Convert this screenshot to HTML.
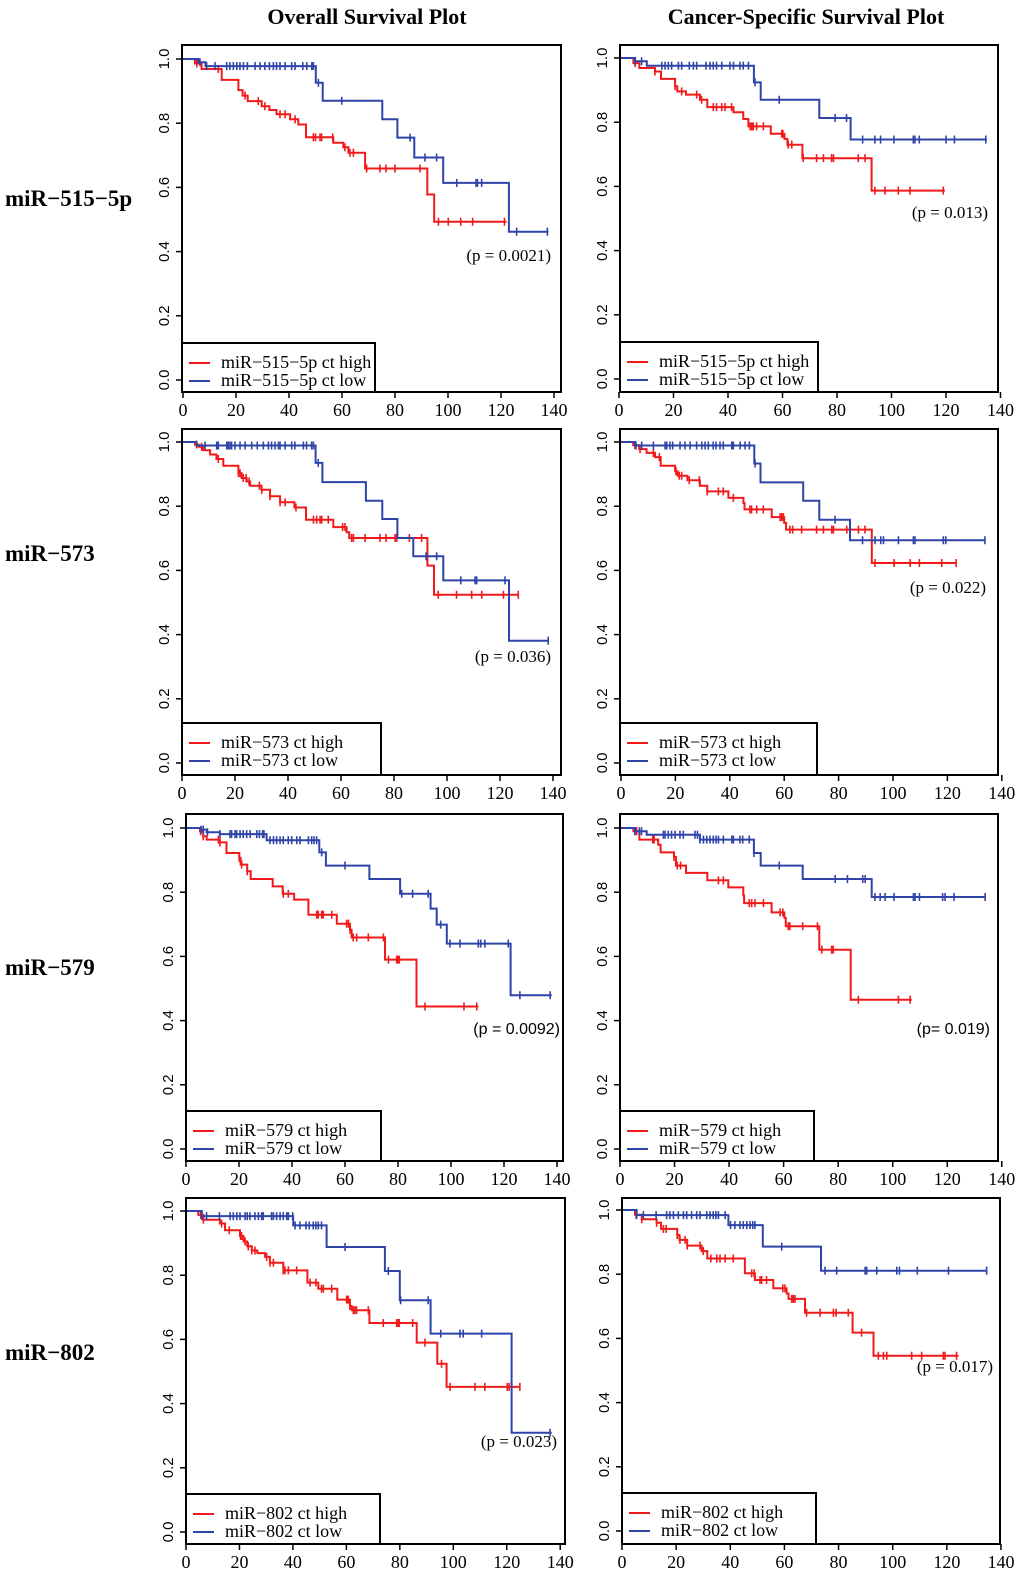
<!DOCTYPE html>
<html><head><meta charset="utf-8"><style>
html,body{margin:0;padding:0;background:#fff}
svg{display:block}
.hd{font-family:"Liberation Serif",serif;font-weight:bold;font-size:22px}
.rl{font-family:"Liberation Serif",serif;font-weight:bold;font-size:23px}
.xt{font-family:"Liberation Serif",serif;font-size:18px}
.yt{font-family:"Liberation Sans",sans-serif;font-size:15px}
.lg{font-family:"Liberation Serif",serif;font-size:18px}
.pv{font-family:"Liberation Serif",serif;font-size:17px}
.pvs{font-family:"Liberation Sans",sans-serif;font-size:16px}
</style></head><body>
<svg id="fig" width="1024" height="1582" viewBox="0 0 1024 1582" xmlns="http://www.w3.org/2000/svg">
<text class="hd" x="367" y="24" text-anchor="middle">Overall Survival Plot</text>
<text class="hd" x="806" y="24" text-anchor="middle">Cancer-Specific Survival Plot</text>
<text class="rl" x="5" y="206">miR−515−5p</text>
<text class="rl" x="5" y="561">miR−573</text>
<text class="rl" x="5" y="975">miR−579</text>
<text class="rl" x="5" y="1360">miR−802</text>
</svg>
<script>
// ---- data: drop times (months), survival after drop, censor times, last follow-up ----
const xTicks = [0,20,40,60,80,100,120,140];
const yTicks = [0,0.2,0.4,0.6,0.8,1.0];
const yTickLabels = ["0.0","0.2","0.4","0.6","0.8","1.0"];

const os515HighT = [4.5,7,14.6,20.9,22.5,24.4,29.7,32.6,35.3,40.4,43.5,46.4,56.7,60.5,62.4,68.7,92.2,94.8];
const os515HighS = [0.986,0.969,0.935,0.903,0.886,0.869,0.853,0.841,0.828,0.812,0.796,0.756,0.739,0.725,0.708,0.659,0.578,0.493];
const os515HighC = [5.2,13.3,23.4,28.4,30.9,36.6,38.5,42.3,49.2,50,51.7,52.3,56.5,61.1,63,64.3,69.3,74.3,76.6,80,89.4,96.4,100.1,104.8,109.3,121.3];
const os515HighEnd = 122.1;
const os515LowT = [5.8,8.5,50.1,52.7,75.2,80.9,87.3,98.2,123];
const os515LowS = [0.99,0.978,0.926,0.870,0.812,0.755,0.693,0.614,0.462];
const os515LowC = [6.4,8.9,12.1,16.5,17.7,19,20.3,21.5,22.8,24.3,27.2,29.1,30.9,32.6,34.1,35.3,36.6,38.5,41,42.3,45.2,46.7,48.6,49.2,51.1,59.9,85.7,91.3,95.7,103.3,110.6,111.1,112.7,125.9,137.5];
const os515LowEnd = 137.9;

const cs515HighT = [5.3,7.5,13.2,15.4,20.6,21.4,24.6,29.7,32.4,42,45.6,47.5,55.7,60.7,61.8,67.3,92.7];
const cs515HighS = [0.984,0.969,0.958,0.935,0.912,0.896,0.886,0.870,0.847,0.831,0.810,0.787,0.764,0.748,0.730,0.688,0.587];
const cs515HighC = [5.9,13.2,20.6,23,28.5,30.3,34.6,35.8,37.7,38.9,41.3,48.1,48.7,49.3,50.5,53,59.7,60.1,62.1,63.4,67.6,72.5,75,78,78.7,87.8,90.3,93.9,97.6,102.5,106.8,119];
const cs515HighEnd = 119.6;
const cs515LowT = [5.9,10.2,49.5,52,73.5,85];
const cs515LowS = [0.99,0.976,0.924,0.870,0.813,0.746];
const cs515LowC = [5.9,8.3,15.7,16.9,18.1,19.3,21.8,23,25.8,27.3,28.5,31.9,33.4,34.6,35.8,37.7,40.7,42,44.4,45.6,47.5,49.9,58.8,79.3,83.5,89.4,93.9,96,100.9,108,108.6,110.2,120,123.1,134.6];
const cs515LowEnd = 135;

const os573HighT = [4.9,6.3,8,10.6,13,15.6,21.3,22.5,24.4,25.7,30,33.2,37,42.4,46.8,57.1,62.1,63.1,92.6,95.1];
const os573HighS = [0.992,0.985,0.974,0.961,0.947,0.926,0.903,0.888,0.877,0.864,0.851,0.831,0.812,0.796,0.758,0.735,0.719,0.701,0.615,0.524];
const os573HighC = [5.5,7.4,13.7,21.3,21.9,23.1,24.2,25.3,29.2,30.1,33.2,37,38.9,43,49.6,50.8,52.1,52.7,55.2,60.6,61.5,64,64.7,69.1,74.7,77,80.4,81,85.8,90.4,96.7,103.6,109.3,113.1,121.3,126.9];
const os573HighEnd = 126.9;
const os573LowT = [5.5,50.4,53,69.4,75.6,81.3,87.3,98.6,123.4];
const os573LowS = [0.989,0.935,0.875,0.817,0.760,0.701,0.644,0.569,0.381];
const os573LowC = [8.7,13.1,13.7,16.9,17.5,18.1,18.7,20,21.9,23.8,26.3,28.4,30.7,32.6,33.8,35.1,36.4,37,38.9,41.4,42.6,45.8,47,48.9,49.6,51.4,92.1,96.1,105.2,110.6,111.2,121.9,138.2];
const os573LowEnd = 138.2;

const cs573HighT = [4.5,6.7,9.4,12.5,14.6,19.9,20.8,24.4,29,31.7,39.5,45,45.4,55.4,60,60.7,92.2];
const cs573HighS = [0.99,0.978,0.966,0.953,0.926,0.909,0.895,0.881,0.864,0.846,0.826,0.810,0.790,0.766,0.748,0.727,0.623];
const cs573HighC = [5.1,7,11.9,14.1,20.2,21.4,22.3,25.1,28.8,31.7,35.8,37.6,41.3,47.4,48,49.9,52.3,58.5,59.1,59.7,62.1,63.1,66.4,71.9,74.4,77.5,78.1,83,87.3,89.7,93.4,100.4,106.3,109.7,117.9,123.2];
const cs573HighEnd = 123.4;
const cs573LowT = [5.1,49,51.3,67,72.9,84.2];
const cs573LowS = [0.989,0.933,0.874,0.817,0.758,0.694];
const cs573LowC = [5.5,7.6,11.9,16.2,16.8,18,19,21.7,23.5,25.4,27.8,29.7,30.9,32.1,33.9,34.9,36.4,37.6,40.7,41.3,43.8,45.6,47.2,49.3,78.7,88.8,93.4,95.5,96.5,102,107.5,108.1,118.5,119.4,133.8];
const cs573LowEnd = 133.8;

const os579HighT = [5.3,6.5,7.8,12.8,15.3,20.1,20.6,23.1,24.4,32.7,36.5,40.8,46.2,56.9,61.9,62.5,75.1,87];
const os579HighS = [0.99,0.974,0.964,0.955,0.922,0.907,0.886,0.865,0.841,0.818,0.795,0.777,0.730,0.702,0.683,0.659,0.590,0.444];
const os579HighC = [5.5,6.5,12.2,12.8,20.1,21,23.1,36.7,38.6,49.3,49.9,51.2,51.8,55,60.6,61.3,61.9,63.1,64.4,68.8,74.5,76.4,79.5,80.1,80.5,90.2,104.9,109.7];
const os579HighEnd = 110.3;
const os579LowT = [5.7,7.8,12.8,30.4,50.3,52.8,69.2,80.8,92.3,94.6,98.4,122.5];
const os579LowS = [0.995,0.987,0.981,0.962,0.924,0.883,0.841,0.795,0.749,0.699,0.640,0.479];
const os579LowC = [5.7,6.5,8.1,12.8,16.6,17.2,18.5,19.1,20.4,21.6,22.9,24.2,26.7,27.7,28.9,29.4,31.7,33,34.2,35.5,36.7,38.6,39.9,41.8,43,46.2,47.4,48.3,49.3,51.2,60,81.4,85.5,91.4,96.1,99.6,103.4,110.3,111.2,112.8,121.6,126,137.4];
const os579LowEnd = 138;

const cs579HighT = [4.9,7.1,14,14.9,19.8,20.5,24.2,32,39.7,45.2,45.5,55.6,60.3,60.8,73.1,84.6];
const cs579HighS = [0.99,0.964,0.948,0.924,0.91,0.883,0.860,0.837,0.815,0.79,0.766,0.737,0.72,0.694,0.621,0.465];
const cs579HighC = [5.5,6.1,12,12.5,19.8,21,22.2,36.1,37.9,47.4,48.3,49.5,52.6,58.7,59.7,61.7,62.3,67,72.4,74,77.6,78.2,87.4,102.1,106.4];
const cs579HighEnd = 107;
const cs579LowT = [5.5,9.8,29.3,49.1,51.6,67,92.3];
const cs579LowS = [0.99,0.979,0.964,0.922,0.883,0.841,0.785];
const cs579LowC = [5.5,7.1,7.9,15.9,16.5,17.7,18.9,20.2,22,23.2,27.5,28.4,29.3,30.6,31.8,33,34.2,35.2,36.1,37.9,41,41.6,44,45,47.4,49.1,58.4,78.9,83.4,89,89.9,93.5,95.4,97.2,100.5,107.6,108.2,109.8,118.3,119.2,122.5,133.9];
const cs579LowEnd = 133.9;

const os802HighT = [4.6,6.5,12.7,14.6,20.2,21.5,22.9,24.6,26.7,29.6,31.4,36.4,45.4,49.5,56.6,61.3,62,68.6,86.3,94,97.5];
const os802HighS = [0.988,0.973,0.961,0.940,0.922,0.905,0.890,0.877,0.869,0.857,0.839,0.815,0.777,0.758,0.724,0.704,0.691,0.651,0.590,0.524,0.452];
const os802HighC = [5.5,6.5,13.3,16.2,20.4,20.8,22.1,23.3,24.6,25.8,30.2,31.4,32.7,36.4,37,38.3,41.4,46.4,48.6,50.7,51.4,54.5,60.1,60.7,61.3,62.6,63.2,63.8,68.2,73.8,78.8,79.4,79.8,84.8,89.4,95.6,98.8,108.1,111.8,120.2,120.9,124.9];
const os802HighEnd = 124.9;
const os802LowT = [5.9,40.1,52.6,74.4,80,91.5,121.8];
const os802LowS = [0.984,0.955,0.888,0.813,0.722,0.618,0.309];
const os802LowC = [5.9,7.7,12.5,16.5,17.7,19,20.2,22.1,22.9,23.9,25.8,27.1,28.3,28.9,32,32.7,33.9,35.2,36.4,37.7,38.3,39.9,40.8,42.6,44.9,46.1,47.6,48.6,49.5,50.7,59.5,75.7,80.3,90.6,95.3,102.5,103.7,110.6,136.2];
const os802LowEnd = 136.8;

const cs802HighT = [4.8,7.3,12.8,14.4,20.4,21.2,24.1,29.4,31.5,45.4,49.1,55.9,60.8,61.5,67.6,85.2,92.9];
const cs802HighS = [0.985,0.971,0.96,0.941,0.922,0.907,0.889,0.872,0.849,0.803,0.782,0.756,0.74,0.723,0.680,0.618,0.546];
const cs802HighC = [5.2,7.3,12.8,15.3,16.3,20.4,21.4,23.3,24.1,28.8,30,32.8,35,36.2,38.1,41.1,47.9,48.8,51,51.6,53.4,59.4,60.2,62.7,63.3,63.9,68.2,73.2,78.1,79.1,83.6,88.5,94.7,96.6,97.8,107,110.7,118.7,119.3,123.6];
const cs802HighEnd = 124.3;
const cs802LowT = [5.4,39.3,52,73.5];
const cs802LowS = [0.984,0.953,0.886,0.811];
const cs802LowC = [5.4,7.9,12.6,16.5,17.7,19,20.8,22.7,23.9,25.7,27.6,28.8,31.3,32.5,33.7,34.7,35.6,38.1,40.1,41.7,43.6,44.8,46.1,47.3,48.3,49.1,59,75,79.3,89.8,90.4,94.1,101.5,102.5,109.1,120.6,134.7];
const cs802LowEnd = 134.7;

// ---- layout (pixels) ----
const RED = "#f01a1a", BLUE = "#2f44a8";
const panels = [
 {id:"os-515",L:182,T:45,R:561,B:392,x0:183,kx:2.65,y1:59,y0:380,lgR:375,lgT:343,mir:"miR−515−5p",p:"(p = 0.0021)",px:551,py:261,sans:false,
  hi:[os515HighT,os515HighS,os515HighC,os515HighEnd],lo:[os515LowT,os515LowS,os515LowC,os515LowEnd]},
 {id:"css-515",L:620,T:45,R:998,B:392,x0:619,kx:2.725,y1:58,y0:379,lgR:818,lgT:342,mir:"miR−515−5p",p:"(p = 0.013)",px:988,py:218,sans:false,
  hi:[cs515HighT,cs515HighS,cs515HighC,cs515HighEnd],lo:[cs515LowT,cs515LowS,cs515LowC,cs515LowEnd]},
 {id:"os-573",L:182,T:429,R:561,B:775,x0:182,kx:2.65,y1:442,y0:763,lgR:381,lgT:723,mir:"miR−573",p:"(p = 0.036)",px:551,py:662,sans:false,
  hi:[os573HighT,os573HighS,os573HighC,os573HighEnd],lo:[os573LowT,os573LowS,os573LowC,os573LowEnd]},
 {id:"css-573",L:620,T:429,R:998,B:775,x0:621,kx:2.72,y1:442,y0:763,lgR:817,lgT:723,mir:"miR−573",p:"(p = 0.022)",px:986,py:593,sans:false,
  hi:[cs573HighT,cs573HighS,cs573HighC,cs573HighEnd],lo:[cs573LowT,cs573LowS,cs573LowC,cs573LowEnd]},
 {id:"os-579",L:186,T:814,R:563,B:1161,x0:186,kx:2.65,y1:828,y0:1149,lgR:381,lgT:1111,mir:"miR−579",p:"(p = 0.0092)",px:560,py:1034,sans:true,
  hi:[os579HighT,os579HighS,os579HighC,os579HighEnd],lo:[os579LowT,os579LowS,os579LowC,os579LowEnd]},
 {id:"css-579",L:620,T:814,R:998,B:1161,x0:620,kx:2.727,y1:828,y0:1149,lgR:814,lgT:1111,mir:"miR−579",p:"(p= 0.019)",px:990,py:1034,sans:true,
  hi:[cs579HighT,cs579HighS,cs579HighC,cs579HighEnd],lo:[cs579LowT,cs579LowS,cs579LowC,cs579LowEnd]},
 {id:"os-802",L:186,T:1198,R:565,B:1544,x0:186,kx:2.673,y1:1211,y0:1532,lgR:380,lgT:1494,mir:"miR−802",p:"(p = 0.023)",px:557,py:1447,sans:false,
  hi:[os802HighT,os802HighS,os802HighC,os802HighEnd],lo:[os802LowT,os802LowS,os802LowC,os802LowEnd]},
 {id:"css-802",L:622,T:1198,R:1000,B:1544,x0:622,kx:2.707,y1:1210,y0:1531,lgR:816,lgT:1493,mir:"miR−802",p:"(p = 0.017)",px:993,py:1372,sans:false,
  hi:[cs802HighT,cs802HighS,cs802HighC,cs802HighEnd],lo:[cs802LowT,cs802LowS,cs802LowC,cs802LowEnd]}
];

const NS = "http://www.w3.org/2000/svg";
const svg = document.getElementById("fig");
function mk(tag, attrs, parent){
  const e = document.createElementNS(NS, tag);
  for (const k in attrs) e.setAttribute(k, attrs[k]);
  (parent||svg).appendChild(e);
  return e;
}

panels.forEach(function(P){
  const X = t => P.x0 + t*P.kx;
  const Y = s => P.y0 - s*(P.y0-P.y1);
  const g = mk("g", {});
  
  

  xTicks.forEach(function(v){
    const tk = mk("line", {x1:X(v),x2:X(v),y1:P.B,y2:P.B+6,stroke:"#000","stroke-width":1.5}, g);
    
    
    const tx = mk("text", {x:X(v),y:P.B+24,"text-anchor":"middle","class":"xt"}, g);
    tx.textContent = String(v);
    
    
  });
  yTicks.forEach(function(v,i){
    const tk = mk("line", {x1:P.L-6,x2:P.L,y1:Y(v),y2:Y(v),stroke:"#000","stroke-width":1.5}, g);
    
    
    const tx = mk("text", {x:0,y:0,"text-anchor":"middle","class":"yt",transform:"translate("+(P.L-13)+","+Y(v)+") rotate(-90)"}, g);
    tx.textContent = yTickLabels[i];
    
    
  });

  function curve(data, color, name){
    const T = data[0], S = data[1], C = data[2], end = data[3];
    let d = "M" + X(0) + "," + Y(1);
    for (let i=0;i<T.length;i++){
      d += " H" + X(T[i]).toFixed(1) + " V" + Y(S[i]).toFixed(1);
    }
    d += " H" + X(end).toFixed(1);
    const p = mk("path", {d:d,fill:"none",stroke:color,"stroke-width":2}, g);
    
    
    C.forEach(function(c){
      let s = 1;
      for (let i=0;i<T.length;i++){ if (T[i] <= c) s = S[i]; }
      const m = mk("line", {x1:X(c),x2:X(c),y1:Y(s)-4,y2:Y(s)+4,stroke:color,"stroke-width":1.6}, g);
      
      
    });
  }
  curve(P.hi, RED, "ct-high");
  curve(P.lo, BLUE, "ct-low");

  const box = mk("rect", {x:P.L,y:P.T,width:P.R-P.L,height:P.B-P.T,fill:"none",stroke:"#000","stroke-width":2}, g);
  
  

  const lg = mk("g", {}, g);
  
  
  const lb = mk("rect", {x:P.L,y:P.lgT,width:P.lgR-P.L,height:P.B-P.lgT,fill:"#fff",stroke:"#000","stroke-width":2}, lg);
  
  
  [["ct high",RED,20],["ct low",BLUE,38]].forEach(function(e){
    const ln = mk("line", {x1:P.L+7,x2:P.L+28,y1:P.lgT+e[2],y2:P.lgT+e[2],stroke:e[1],"stroke-width":2}, lg);
    
    
    const tx = mk("text", {x:P.L+39,y:P.lgT+e[2]+5,"class":"lg"}, lg);
    tx.textContent = P.mir + " " + e[0];
    
    
  });

  const pv = mk("text", {x:P.px,y:P.py,"text-anchor":"end","class":P.sans?"pvs":"pv"}, g);
  pv.textContent = P.p;
  
  
});
</script>
</body></html>
